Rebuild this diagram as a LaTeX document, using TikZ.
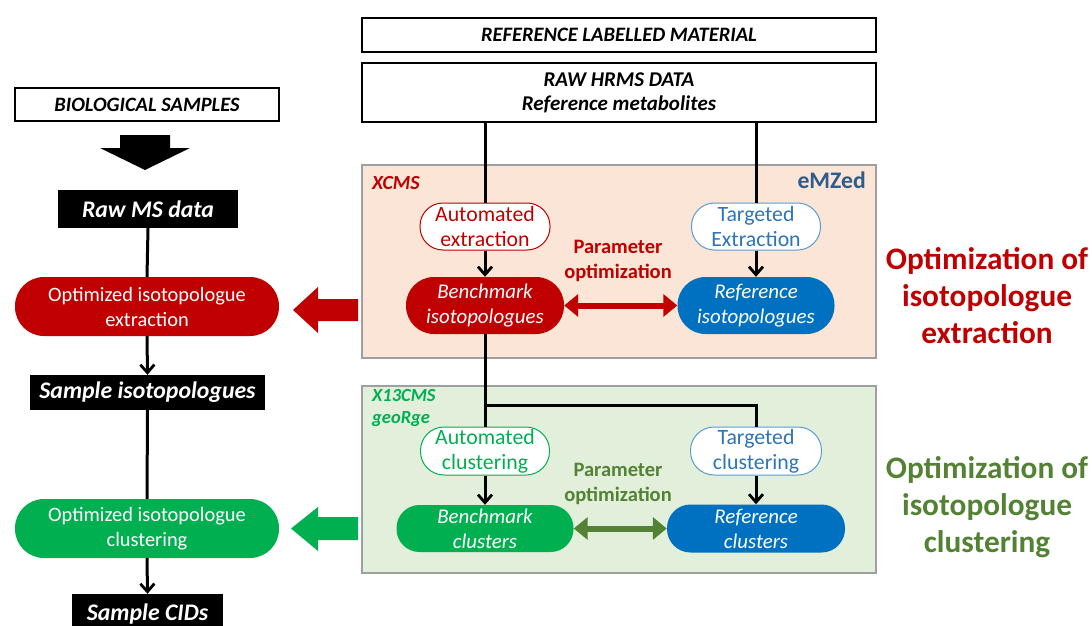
\documentclass[tikz,border=0pt]{standalone}
\usepackage{fontspec}
\setmainfont{Carlito}
\usetikzlibrary{arrows.meta}
\definecolor{dred}{HTML}{C00000}
\definecolor{mblue}{HTML}{0070C0}
\definecolor{lblue}{HTML}{5B9BD5}
\definecolor{tblue}{HTML}{2E75B6}
\definecolor{mgreen}{HTML}{00B050}
\definecolor{dgreen}{HTML}{548235}
\definecolor{emz}{HTML}{2F5C8A}
\definecolor{peach}{HTML}{FBE5D6}
\definecolor{lgreen}{HTML}{E2EFDA}
\newcommand\fsz[2]{\fontsize{#1}{#2}\selectfont}
\tikzset{
  wbox/.style={draw=black, line width=1.2pt, fill=white, inner sep=0pt, align=center},
  bbox/.style={fill=black, text=white, inner sep=0pt, align=center},
  pill/.style={inner sep=0pt, align=center},
  conn/.style={line width=3pt, draw=black},
  arr/.style={conn, -{Straight Barb[length=8pt,width=14pt,line width=2.8pt]}},
  dbl/.style={line width=6pt, {Triangle[length=14pt,width=22pt]}-{Triangle[length=14pt,width=22pt]}},
  panel/.style={draw=gray!75, line width=1.2pt}
}
\begin{document}
\begin{tikzpicture}[x=1pt,y=-1pt]
\useasboundingbox (0,0) rectangle (1092,626);
\clip (0,0) rectangle (1092,626);

% panels
\node[panel, fill=peach, minimum width=514pt, minimum height=193pt, inner sep=0pt] (xpanel) at (619,261.5) {};
\node[panel, fill=lgreen, minimum width=514pt, minimum height=187pt, inner sep=0pt] (gpanel) at (619,479.5) {};

% top boxes
\node[wbox, minimum width=514pt, minimum height=34pt, font=\fsz{20.5}{24}\bfseries\itshape] (refmat) at (619,35) {REFERENCE LABELLED MATERIAL};
\node[wbox, minimum width=514pt, minimum height=59pt, font=\fsz{21}{24}\bfseries\itshape] (rawhrms) at (619,92.5) {RAW HRMS DATA\\Reference metabolites};

% left column
\node[wbox, minimum width=264pt, minimum height=33pt, font=\fsz{20.4}{24}\bfseries\itshape] (bio) at (147,104.5) {BIOLOGICAL SAMPLES};
\node[bbox, minimum width=180pt, minimum height=38pt, font=\fsz{23.8}{28}\bfseries\itshape] (rawms) at (148,209) {Raw MS data};
\node[pill, fill=dred, text=white, rounded corners=29pt, minimum width=264pt, minimum height=59pt, font=\fsz{20.4}{25}] (optext) at (147,306.5) {Optimized isotopologue\\extraction};
\node[bbox, minimum width=235pt, minimum height=35pt, font=\fsz{23.8}{28}\bfseries\itshape] (sampiso) at (147.5,392.5) {Sample isotopologues};
\node[pill, fill=mgreen, text=white, rounded corners=29pt, minimum width=264pt, minimum height=59pt, font=\fsz{20.4}{25}] (optclu) at (147,528.5) {Optimized isotopologue\\clustering};
\node[bbox, minimum width=151pt, minimum height=40pt, font=\fsz{23.8}{28}\bfseries\itshape] (cids) at (147.5,614) {Sample CIDs};

% big black down arrow
\fill[black] (120,135) -- (170,135) -- (170,148) -- (190,148) -- (145,170) -- (100,148) -- (120,148) -- cycle;

\draw[conn] (rawms.south) -- (optext.north);
\draw[arr] (optext.south) -- (sampiso.north);
\draw[conn] (sampiso.south) -- (optclu.north);
\draw[arr] (optclu.south) -- (cids.north);

% big left arrows
\fill[dred] (358,299) -- (318,299) -- (318,287) -- (293,310) -- (318,333) -- (318,321) -- (358,321) -- cycle;
\fill[mgreen] (358,517) -- (318,517) -- (318,507) -- (291,528.5) -- (318,551) -- (318,540) -- (358,540) -- cycle;

% XCMS panel content
\node[anchor=west, text=dred, inner sep=0pt, font=\fsz{20}{24}\bfseries\itshape] (xcms) at (372,183) {XCMS};
\node[anchor=east, text=emz, inner sep=0pt, font=\fsz{23.7}{28}\bfseries] (emzed) at (866,180) {eMZed};
\node[pill, draw=dred, line width=1pt, fill=white, text=dred, rounded corners=23pt, minimum width=130pt, minimum height=47pt, font=\fsz{21.8}{25}] (autoext) at (485,226.5) {Automated\\extraction};
\node[pill, draw=lblue, line width=1pt, fill=white, text=tblue, rounded corners=23pt, minimum width=129pt, minimum height=47pt, font=\fsz{21.8}{25}] (targext) at (756,226.5) {Targeted\\Extraction};
\node[pill, fill=dred, text=white, rounded corners=28pt, minimum width=158pt, minimum height=57pt, font=\fsz{20.9}{25}\itshape] (benchiso) at (485,305.5) {Benchmark\\isotopologues};
\node[pill, fill=mblue, text=white, rounded corners=28pt, minimum width=157pt, minimum height=57pt, font=\fsz{20.9}{25}\itshape] (refiso) at (756,305.5) {Reference\\isotopologues};
\node[text=dred, align=center, inner sep=0pt, font=\fsz{20.5}{25}\bfseries] (popt1) at (618,260.5) {Parameter\\optimization};

\draw[conn] (rawhrms.south -| autoext.north) -- (autoext.north);
\draw[conn] (rawhrms.south -| targext.north) -- (targext.north);
\draw[arr] (autoext.south) -- (benchiso.north);
\draw[arr] (targext.south) -- (refiso.north);
\draw[dbl, draw=dred, fill=dred] (benchiso.east) -- (refiso.west);

% X13CMS panel content
\node[anchor=west, text=mgreen, align=left, inner sep=0pt, font=\fsz{18.5}{22}\bfseries\itshape] (x13) at (372,408) {X13CMS\\geoRge};
\node[pill, draw=mgreen, line width=1pt, fill=white, text=mgreen, rounded corners=23.5pt, minimum width=129pt, minimum height=48pt, font=\fsz{21.8}{25}] (autoclu) at (485,451) {Automated\\clustering};
\node[pill, draw=lblue, line width=1pt, fill=white, text=tblue, rounded corners=23.5pt, minimum width=131pt, minimum height=48pt, font=\fsz{21.8}{25}] (targclu) at (756,451) {Targeted\\clustering};
\node[pill, fill=mgreen, text=white, rounded corners=23pt, minimum width=177pt, minimum height=47pt, font=\fsz{20.9}{25}\itshape] (benchclu) at (485,528.5) {Benchmark\\clusters};
\node[pill, fill=mblue, text=white, rounded corners=23.5pt, minimum width=178pt, minimum height=48pt, font=\fsz{20.9}{25}\itshape] (refclu) at (756,528.5) {Reference\\clusters};
\node[text=dgreen, align=center, inner sep=0pt, font=\fsz{20.5}{25}\bfseries] (popt2) at (618,483.5) {Parameter\\optimization};

\coordinate (split) at (485,405);
\draw[conn] (benchiso.south) -- (split) -- (autoclu.north);
\draw[conn] (split) -| (targclu.north);
\draw[arr] (autoclu.south) -- (benchclu.north);
\draw[arr] (targclu.south) -- (refclu.north);
\draw[dbl, draw=dgreen, fill=dgreen] (benchclu.east) -- (refclu.west);

% right labels
\node[text=dred, align=center, inner sep=0pt, font=\fsz{31.3}{37}\bfseries] (lab1) at (987,296) {Optimization of\\isotopologue\\extraction};
\node[text=dgreen, align=center, inner sep=0pt, font=\fsz{31.3}{37}\bfseries] (lab2) at (987,507) {Optimization of\\isotopologue\\clustering};
\end{tikzpicture}
\end{document}
